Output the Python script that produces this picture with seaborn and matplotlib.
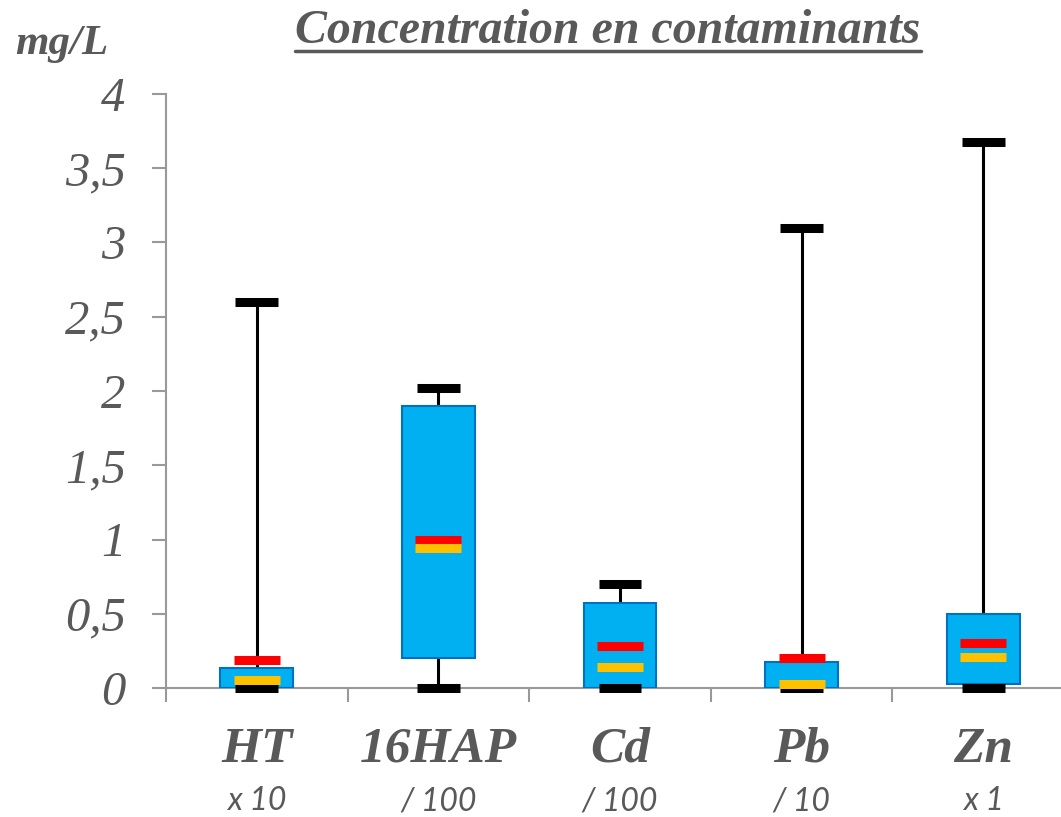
import numpy as np
import pandas as pd
import matplotlib.pyplot as plt
import seaborn as sns
from matplotlib.lines import Line2D

# valeurs (mg/L, apres facteur d'echelle)
elements = ["HT", "16HAP", "Cd", "Pb", "Zn"]
facteurs = ["x 10", "/ 100", "/ 100", "/ 10", "x 1"]
mins = [0.0, 0.0, 0.0, 0.0, 0.0]
q1 = [0.0, 0.2, 0.0, 0.0, 0.03]
q3 = [0.135, 1.9, 0.575, 0.175, 0.495]
maxs = [2.6, 2.02, 0.70, 3.1, 3.68]
moyennes = [0.19, 1.0, 0.28, 0.2, 0.30]
medianes = [0.055, 0.945, 0.14, 0.03, 0.21]
y_ticks = [0, 0.5, 1, 1.5, 2, 2.5, 3, 3.5, 4]

GREY = "#595959"
AXIS_GREY = "#999999"

sns.set_theme(style="white")
plt.rcParams['font.family'] = ['Liberation Serif', 'DejaVu Serif']

fig = plt.figure(figsize=(10.61, 8.17), dpi=100)
ax = fig.add_axes([166 / 1061, 129 / 817, 908 / 1061, 594 / 817])

positions = list(range(len(elements)))
stats = [
    dict(label=e, whislo=lo, q1=a, med=m, q3=b, whishi=hi)
    for e, lo, a, m, b, hi in zip(elements, mins, q1, medianes, q3, maxs)
]
ax.bxp(
    stats, positions=positions, widths=0.4, capwidths=0.235,
    patch_artist=True, showfliers=False,
    boxprops=dict(facecolor="#00B0F0", edgecolor="#0070C0", linewidth=1.5, zorder=3),
    whiskerprops=dict(color="black", linewidth=2.2, zorder=2),
    capprops=dict(color="black", linewidth=6.5, solid_capstyle="butt",
                  clip_on=False, zorder=4),
    medianprops=dict(visible=False),
)

# moyenne (rouge) et mediane (orange)
marks = pd.DataFrame({
    "pos": positions * 2,
    "valeur": moyennes + medianes,
    "stat": ["moyenne"] * len(elements) + ["médiane"] * len(elements),
})
sns.scatterplot(
    data=marks, x="pos", y="valeur", hue="stat",
    palette={"moyenne": "#FF0000", "médiane": "#FFC000"},
    marker="_", s=1100, linewidth=6.5, legend=False, zorder=5,
    clip_on=False, ax=ax,
)

ax.set_xlim(-0.5, len(elements) - 0.5)
ax.set_ylim(0, 4)
ax.set_xlabel("")
ax.set_ylabel("")

ax.set_yticks(y_ticks)
ax.set_yticklabels([f"{v:g}".replace(".", ",") for v in y_ticks],
                   fontsize=35, style="italic", color=GREY)
ax.tick_params(axis="y", length=10, width=1.5, color=AXIS_GREY,
               direction="out", pad=19, left=True)

ax.set_xticks(positions)
ax.set_xticklabels(elements, fontsize=37, fontweight="bold", style="italic",
                   color=GREY)
ax.set_xticks(np.arange(-0.5, len(elements), 1), minor=True)
ax.tick_params(axis="x", which="major", length=0, pad=28)
ax.tick_params(axis="x", which="minor", length=10, width=1.5,
               color=AXIS_GREY, direction="out", bottom=True)

for s in ["top", "right"]:
    ax.spines[s].set_visible(False)
for s in ["left", "bottom"]:
    ax.spines[s].set_color(AXIS_GREY)
    ax.spines[s].set_linewidth(1.5)

for p, f in zip(positions, facteurs):
    ax.annotate(f, xy=(p, 0), xycoords=("data", "axes fraction"),
                xytext=(0, -113), textcoords="offset pixels",
                ha="center", va="center", fontsize=23, style="italic",
                color=GREY, family=["Lato", "DejaVu Sans"])

fig.text(15 / 1061, 1 - 44 / 817, "mg/L", fontsize=31, fontweight="bold",
         style="italic", color=GREY, ha="left", va="center")
title = fig.text(608 / 1061, 1 - 31 / 817, "Concentration en contaminants",
                 fontsize=34.5, fontweight="bold", style="italic", color=GREY,
                 ha="center", va="center")

# soulignement du titre
fig.canvas.draw()
bb = title.get_window_extent().transformed(fig.transFigure.inverted())
y_line = 1 - 51 / 817
fig.add_artist(Line2D([bb.x0, bb.x1], [y_line, y_line],
                      transform=fig.transFigure, color=GREY, linewidth=2.5))

fig.savefig("out.png", dpi=100)
